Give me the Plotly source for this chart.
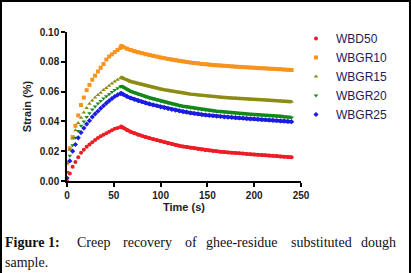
import plotly.graph_objects as go

# ---------------- data ----------------
creep_time = [0, 3, 6, 9, 12, 15, 18, 21, 24, 27, 30, 33, 36, 39, 42, 45, 48, 51, 54, 57]
recov_time = [58, 60, 64, 68, 72, 76, 80, 84, 88, 92, 96, 100, 104, 108, 112, 116, 120,
              124, 128, 132, 136, 140, 144, 148, 152, 156, 160, 164, 168, 172, 176, 180,
              184, 188, 192, 196, 200, 204, 208, 212, 216, 220, 224, 228, 232, 236, 240]

series_names = ["WBD50", "WBGR10", "WBGR15", "WBGR20", "WBGR25"]

wbd50_creep = [0.000, 0.005, 0.0095, 0.0128, 0.016, 0.019, 0.021, 0.023, 0.0245, 0.026,
               0.0275, 0.0288, 0.0300, 0.031, 0.032, 0.033, 0.034, 0.035, 0.0355, 0.036]
wbd50_recov = [0.0365, 0.0357, 0.0342, 0.0330, 0.0321, 0.0311, 0.0303, 0.0295, 0.0288, 0.0281,
               0.0274, 0.0266, 0.0260, 0.0254, 0.0248, 0.0242, 0.0237, 0.0232, 0.0228, 0.0223,
               0.0219, 0.0215, 0.0211, 0.0207, 0.0204, 0.0202, 0.0199, 0.0197, 0.0194, 0.0192,
               0.0190, 0.0188, 0.0186, 0.0184, 0.0182, 0.0180, 0.0178, 0.0176, 0.0174, 0.0173,
               0.0171, 0.0169, 0.0167, 0.0165, 0.0163, 0.0161, 0.0159]

wbgr10_creep = [0.012, 0.022, 0.0295, 0.037, 0.044, 0.051, 0.056, 0.061, 0.0645, 0.068,
                0.0707, 0.0735, 0.076, 0.0785, 0.0815, 0.0835, 0.085, 0.0865, 0.088, 0.0893]
wbgr10_recov = [0.0906, 0.0900, 0.0888, 0.0879, 0.0871, 0.0864, 0.0858, 0.0851, 0.0846, 0.0840,
                0.0835, 0.0829, 0.0824, 0.0819, 0.0814, 0.0810, 0.0806, 0.0802, 0.0799, 0.0795,
                0.0792, 0.0789, 0.0785, 0.0783, 0.0780, 0.0778, 0.0776, 0.0775, 0.0773, 0.0771,
                0.0769, 0.0767, 0.0766, 0.0764, 0.0763, 0.0761, 0.0760, 0.0758, 0.0757, 0.0756,
                0.0754, 0.0753, 0.0751, 0.0750, 0.0748, 0.0747, 0.0745]

wbgr15_creep = [0.012, 0.021, 0.0285, 0.034, 0.039, 0.0425, 0.046, 0.049, 0.0518, 0.054,
                0.056, 0.0578, 0.0593, 0.061, 0.0625, 0.064, 0.0655, 0.0668, 0.068, 0.069]
wbgr15_recov = [0.0696, 0.0689, 0.0678, 0.0668, 0.0661, 0.0653, 0.0647, 0.0640, 0.0635, 0.0629,
                0.0624, 0.0617, 0.0612, 0.0607, 0.0603, 0.0598, 0.0594, 0.0590, 0.0587, 0.0583,
                0.0580, 0.0576, 0.0573, 0.0571, 0.0568, 0.0566, 0.0564, 0.0562, 0.0560, 0.0558,
                0.0556, 0.0555, 0.0553, 0.0552, 0.0550, 0.0549, 0.0547, 0.0546, 0.0544, 0.0543,
                0.0542, 0.0540, 0.0539, 0.0537, 0.0535, 0.0534, 0.0532]

wbgr20_creep = [0.006, 0.017, 0.024, 0.029, 0.0335, 0.037, 0.040, 0.043, 0.0455, 0.048,
                0.050, 0.052, 0.0537, 0.0553, 0.0568, 0.0583, 0.0597, 0.061, 0.0622, 0.0632]
wbgr20_recov = [0.0638, 0.0630, 0.0615, 0.0602, 0.0593, 0.0583, 0.0575, 0.0566, 0.0559, 0.0552,
                0.0545, 0.0537, 0.0530, 0.0524, 0.0518, 0.0513, 0.0507, 0.0502, 0.0498, 0.0492,
                0.0488, 0.0484, 0.0480, 0.0477, 0.0473, 0.0471, 0.0468, 0.0466, 0.0463, 0.0461,
                0.0458, 0.0456, 0.0454, 0.0452, 0.0450, 0.0448, 0.0446, 0.0445, 0.0443, 0.0441,
                0.0439, 0.0437, 0.0435, 0.0434, 0.0431, 0.0429, 0.0427]

wbgr25_creep = [0.002, 0.0135, 0.020, 0.0245, 0.029, 0.0325, 0.0355, 0.0382, 0.0405, 0.043,
                0.045, 0.0468, 0.0488, 0.0505, 0.0522, 0.0538, 0.0553, 0.0567, 0.0578, 0.0587]
wbgr25_recov = [0.0589, 0.0581, 0.0568, 0.0557, 0.0548, 0.0539, 0.0532, 0.0524, 0.0517, 0.0511,
                0.0505, 0.0497, 0.0492, 0.0486, 0.0480, 0.0475, 0.0471, 0.0466, 0.0462, 0.0457,
                0.0453, 0.0450, 0.0446, 0.0443, 0.0440, 0.0438, 0.0435, 0.0433, 0.0431, 0.0429,
                0.0427, 0.0425, 0.0423, 0.0421, 0.0419, 0.0417, 0.0416, 0.0414, 0.0412, 0.0411,
                0.0409, 0.0407, 0.0406, 0.0404, 0.0402, 0.0400, 0.0398]

x_ticks = [0, 50, 100, 150, 200, 250]
y_ticks = [0.00, 0.02, 0.04, 0.06, 0.08, 0.10]
y_tick_labels = ["0.00", "0.02", "0.04", "0.06", "0.08", "0.10"]

caption_words = ["Creep", "recovery", "of", "ghee-residue", "substituted", "dough"]
caption_word_px = [75, 121, 183, 204, 289, 359]

# ---------------- styles ----------------
colors = ["#ee1c24", "#f7931e", "#8c8c14", "#12891a", "#1c1ce0"]
symbols = ["circle", "square", "triangle-up", "triangle-down", "diamond"]

creeps = [wbd50_creep, wbgr10_creep, wbgr15_creep, wbgr20_creep, wbgr25_creep]
recovs = [wbd50_recov, wbgr10_recov, wbgr15_recov, wbgr20_recov, wbgr25_recov]

W, H = 411, 273
L, R, T, B = 67, 110, 32, 92
PW = W - L - R
PH = H - T - B


def px2x(px):
    return (px - L) / PW


def py2y(py):
    return (H - B - py) / PH


fig = go.Figure()
for name, c, s, cr, rc in zip(series_names, colors, symbols, creeps, recovs):
    fig.add_trace(go.Scatter(
        x=creep_time, y=cr, mode="markers", name=name, legendgroup=name,
        marker=dict(color=c, symbol=s, size=4, line=dict(width=0)),
        cliponaxis=False,
    ))
    fig.add_trace(go.Scatter(
        x=recov_time, y=rc, mode="lines+markers", name=name, legendgroup=name,
        showlegend=False,
        line=dict(color=c, width=3.5),
        marker=dict(color=c, symbol=s, size=4, line=dict(width=0)),
        cliponaxis=False,
    ))

fam = "Arial, Liberation Sans, sans-serif"
axis_font = dict(family=fam, size=10, color="#222222")
fig.update_layout(
    width=W, height=H,
    margin=dict(l=L, r=R, t=T, b=B, autoexpand=False),
    paper_bgcolor="white", plot_bgcolor="white",
    showlegend=True,
    legend=dict(x=px2x(296), y=py2y(24), xanchor="left", yanchor="top",
                font=dict(family=fam, size=12, color="#1c1c5c"),
                bgcolor="rgba(0,0,0,0)", itemwidth=30, tracegroupgap=0),
    xaxis=dict(range=[0, 250], tickvals=x_ticks, ticktext=["<b>%d</b>" % v for v in x_ticks],
               ticks="outside", ticklen=4, tickwidth=1.5,
               tickcolor="black", showline=True, linecolor="black", linewidth=1.5,
               showgrid=False, zeroline=False, tickfont=axis_font,
               title=dict(text="<b>Time (s)</b>", font=dict(family=fam, size=11, color="#222222"), standoff=4)),
    yaxis=dict(range=[0, 0.10], tickvals=y_ticks, ticktext=["<b>%s</b>" % t for t in y_tick_labels],
               ticks="outside", ticklen=4, tickwidth=1.5,
               tickcolor="black", showline=True, linecolor="black", linewidth=1.5,
               showgrid=False, zeroline=False, tickfont=axis_font,
               title=dict(text="<b>Strain (%)</b>", font=dict(family=fam, size=11, color="#222222"), standoff=6)),
)

cap_font = dict(family="Liberation Serif, serif", size=14, color="#111111")
fig.add_annotation(text="<b>Figure 1:</b>", x=px2x(3), y=py2y(242), xref="paper", yref="paper",
                   xanchor="left", yanchor="middle", showarrow=False, font=cap_font)
for w, p in zip(caption_words, caption_word_px):
    fig.add_annotation(text=w, x=px2x(p), y=py2y(242), xref="paper", yref="paper",
                       xanchor="left", yanchor="middle", showarrow=False, font=cap_font)
fig.add_annotation(text="sample.", x=px2x(3), y=py2y(262), xref="paper", yref="paper",
                   xanchor="left", yanchor="middle", showarrow=False, font=cap_font)

fig.add_shape(type="rect", xref="paper", yref="paper",
              x0=px2x(1), x1=px2x(410), y0=py2y(285), y1=py2y(1),
              line=dict(color="black", width=2), fillcolor="rgba(0,0,0,0)", layer="above")

fig.write_html("out.html", config={"displayModeBar": False},
               post_script="document.body.style.margin='0';document.body.style.padding='0';")
